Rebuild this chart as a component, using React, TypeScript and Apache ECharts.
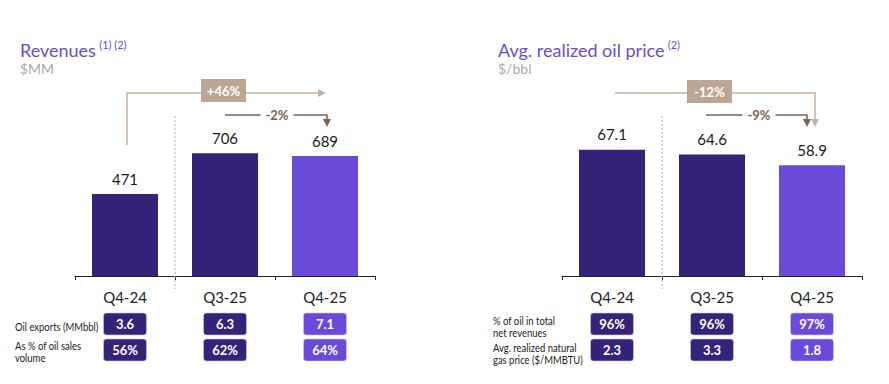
import React, { useEffect, useRef } from "react";
import * as echarts from "echarts";

const categories = ["Q4-24", "Q3-25", "Q4-25"];
const revenues = [471, 706, 689];
const oilPrice = [67.1, 64.6, 58.9];
const barColors = ["#35237a", "#35237a", "#6a4ad8"];

const leftRowLabels = ["Oil exports (MMbbl)", "As % of oil sales\nvolume"];
const leftRow1 = ["3.6", "6.3", "7.1"];
const leftRow2 = ["56%", "62%", "64%"];
const rightRowLabels = ["% of oil in total\nnet revenues", "Avg. realized natural\ngas price ($/MMBTU)"];
const rightRow1 = ["96%", "96%", "97%"];
const rightRow2 = ["2.3", "3.3", "1.8"];

const leftChanges = { total: "+46%", recent: "-2%" };
const rightChanges = { total: "-12%", recent: "-9%" };

const FONT = "Lato";
const PURPLE = "#6a4bd8";
const BEIGE = "#bca592";
const BEIGE_LINE = "#c6b3a3";
const BROWN = "#7a6251";

function tableSeries(xAxisIndex: number, row1: string[], row2: string[]) {
  return {
    type: "custom",
    xAxisIndex,
    yAxisIndex: xAxisIndex,
    clip: false,
    silent: true,
    data: categories.map((_, i) => [i, 0]),
    renderItem: (params: any, api: any) => {
      const i = params.dataIndex;
      const p = api.coord([api.value(0), 0]);
      const x = p[0];
      const y0 = p[1];
      const w = 43;
      const h = 22;
      const fill = barColors[i];
      const cell = (dy: number, txt: string) => [
        {
          type: "rect",
          shape: { x: x - w / 2, y: y0 + dy, width: w, height: h, r: 3 },
          style: { fill, stroke: "#cfc7ee", lineWidth: 0.6 },
        },
        {
          type: "text",
          style: {
            x,
            y: y0 + dy + h / 2,
            text: txt,
            fill: "#fff",
            font: `bold 13px "${FONT}"`,
            align: "center",
            verticalAlign: "middle",
          },
        },
      ];
      return {
        type: "group",
        children: [...cell(37, row1[i]), ...cell(63, row2[i])],
      };
    },
  };
}

function arrowHeadRight(x: number, y: number, color: string) {
  return {
    type: "polygon",
    shape: { points: [[x, y], [x - 8, y - 4], [x - 8, y + 4]] },
    style: { fill: color },
  };
}
function arrowHeadDown(x: number, y: number, color: string) {
  return {
    type: "polygon",
    shape: { points: [[x, y], [x - 4, y - 8], [x + 4, y - 8]] },
    style: { fill: color },
  };
}
function box(cx: number, cy: number, txt: string) {
  return [
    { type: "rect", shape: { x: cx - 22.5, y: cy - 11.5, width: 45, height: 23 }, style: { fill: BEIGE } },
    {
      type: "text",
      style: { x: cx, y: cy, text: txt, fill: "#fff", font: `bold 13px "${FONT}"`, align: "center", verticalAlign: "middle" },
    },
  ];
}
function midLabel(cx: number, cy: number, txt: string) {
  return {
    type: "text",
    style: {
      x: cx,
      y: cy,
      text: txt,
      fill: BROWN,
      font: `bold 13px "${FONT}"`,
      align: "center",
      verticalAlign: "middle",
      backgroundColor: "#fff",
      padding: [0, 5],
    },
  };
}
function divider(x: number, color = "#aaaaaa") {
  return {
    type: "line",
    shape: { x1: x, y1: 116, x2: x, y2: 289 },
    style: { stroke: color, lineWidth: 1, lineDash: [2, 2] },
  };
}

function annotationSeries(idx: number) {
  return {
    type: "custom",
    xAxisIndex: idx,
    yAxisIndex: idx,
    clip: false,
    silent: true,
    z: 5,
    data: [[0, 0]],
    renderItem: (_params: any, api: any) => {
      const c0 = api.coord([0, 0])[0];
      const c1 = api.coord([1, 0])[0];
      const c2 = api.coord([2, 0])[0];
      const children: any[] = [divider((c0 + c1) / 2)];
      if (idx === 0) {
        children.push(
          { type: "polyline", shape: { points: [[c0 + 2, 145], [c0 + 2, 93], [c2 - 6, 93]] }, style: { stroke: BEIGE_LINE, lineWidth: 1.5, fill: null } },
          arrowHeadRight(c2 + 1, 93, BEIGE_LINE),
          ...box(c1 - 1.5, 90.5, leftChanges.total),
          { type: "polyline", shape: { points: [[c1, 115], [c2 + 2, 115], [c2 + 2, 121]] }, style: { stroke: BROWN, lineWidth: 1.5, fill: null } },
          arrowHeadDown(c2 + 2, 127, BROWN),
          midLabel(c1 + 52, 115, leftChanges.recent)
        );
      } else {
        children.push(
          { type: "polyline", shape: { points: [[c0 + 3, 93], [c2 + 3, 93], [c2 + 3, 121]] }, style: { stroke: BEIGE_LINE, lineWidth: 1.5, fill: null } },
          arrowHeadDown(c2 + 3, 127, BEIGE_LINE),
          ...box(c1 - 2.5, 91.5, rightChanges.total),
          { type: "polyline", shape: { points: [[c1 - 6, 115], [c2 - 5, 115], [c2 - 5, 121]] }, style: { stroke: BROWN, lineWidth: 1.5, fill: null } },
          arrowHeadDown(c2 - 5, 127, BROWN),
          midLabel(c1 + 47, 115, rightChanges.recent)
        );
      }
      return { type: "group", children };
    },
  };
}

function barSeries(idx: number, values: number[], fmt: (v: number) => string) {
  return {
    type: "bar",
    xAxisIndex: idx,
    yAxisIndex: idx,
    barWidth: 66,
    data: values.map((v, i) => ({ value: v, itemStyle: { color: barColors[i] } })),
    label: {
      show: true,
      position: "top",
      distance: 8,
      fontFamily: FONT,
      fontSize: 15,
      color: "#1a1a1a",
      formatter: (p: any) => fmt(p.value),
    },
  };
}

function xAxis(gridIndex: number) {
  return {
    type: "category",
    gridIndex,
    data: categories,
    axisLine: { lineStyle: { color: "#222", width: 1 } },
    axisTick: { show: true, length: 4, lineStyle: { color: "#222" } },
    axisLabel: { fontFamily: FONT, fontSize: 15, color: "#222", margin: 13 },
  };
}

function title(x: number, main: string, sup: string, unit: string) {
  return [
    {
      type: "text",
      x,
      y: 39,
      style: {
        text: `{t|${main}} {s|${sup}}`,
        rich: {
          t: { fill: PURPLE, fontFamily: FONT, fontSize: 18, lineHeight: 20, verticalAlign: "bottom" },
          s: { fill: PURPLE, fontFamily: FONT, fontSize: 11, lineHeight: 20, verticalAlign: "top" },
        },
      },
    },
    { type: "text", x, y: 61, style: { text: unit, fill: "#a8a8a8", font: `14px "${FONT}"` } },
  ];
}

export default function App() {
  const ref = useRef<HTMLDivElement>(null);
  useEffect(() => {
    if (!ref.current) return;
    const chart = echarts.init(ref.current, undefined, { renderer: "svg" });
    const lbl = { fill: "#1a1a1a", font: `11px "${FONT}"`, verticalAlign: "middle", lineHeight: 12 };
    const sx = 0.86;
    chart.setOption({
      animation: false,
      backgroundColor: "#fff",
      grid: [
        { left: 75, width: 300, top: 102, bottom: 108 },
        { left: 562, width: 300, top: 88, bottom: 108 },
      ],
      xAxis: [xAxis(0), xAxis(1)],
      yAxis: [
        { type: "value", gridIndex: 0, min: 0, max: 1000, show: false },
        { type: "value", gridIndex: 1, min: 0, max: 100, show: false },
      ],
      series: [
        barSeries(0, revenues, (v) => String(v)),
        barSeries(1, oilPrice, (v) => v.toFixed(1)),
        tableSeries(0, leftRow1, leftRow2),
        tableSeries(1, rightRow1, rightRow2),
        annotationSeries(0),
        annotationSeries(1),
      ],
      graphic: [
        ...title(20, "Revenues", "(1) (2)", "$MM"),
        ...title(498, "Avg. realized oil price", "(2)", "$/bbl"),
        { type: "text", x: 15, y: 327, scaleX: sx, style: { ...lbl, text: leftRowLabels[0] } },
        { type: "text", x: 15, y: 351.5, scaleX: sx, style: { ...lbl, text: leftRowLabels[1] } },
        { type: "text", x: 493, y: 326.5, scaleX: sx, style: { ...lbl, text: rightRowLabels[0] } },
        { type: "text", x: 493, y: 353.5, scaleX: sx, style: { ...lbl, text: rightRowLabels[1] } },
      ],
    });
    return () => chart.dispose();
  }, []);
  return <div ref={ref} style={{ position: "fixed", left: 0, top: 0, width: 889, height: 384 }} />;
}
